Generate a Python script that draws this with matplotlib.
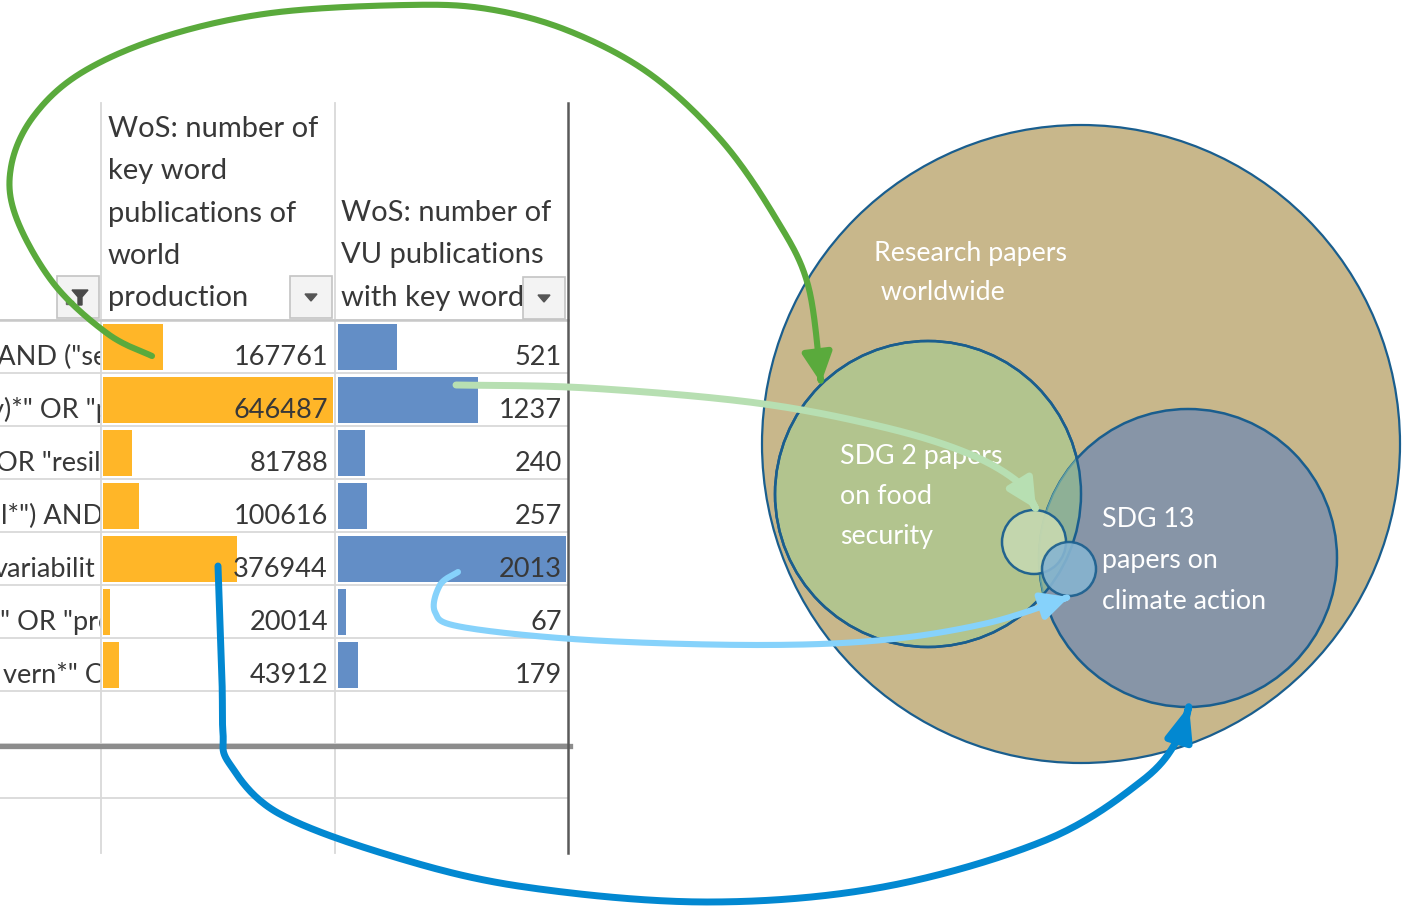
import numpy as np
import matplotlib.pyplot as plt
from matplotlib.patches import Circle, Rectangle, Polygon, FancyArrowPatch
from matplotlib.path import Path

plt.rcParams['font.family'] = ['Lato', 'DejaVu Sans']

# ---- table data (only the visible part of the spreadsheet) ----
row_labels = ['(AND ("sea', 'y)*" OR "pe', 'OR "resili', 'l*") AND', 'variabilit', '" OR "pro', 'vern*" OR']
world_pubs = [167761, 646487, 81788, 100616, 376944, 20014, 43912]
vu_pubs = [521, 1237, 240, 257, 2013, 67, 179]
header_world = ['WoS: number of', 'key word', 'publications of', 'world', 'production']
header_vu = ['WoS: number of', 'VU publications', 'with key word']

# ---- venn labels ----
label_world = ['Research papers', ' worldwide']
label_sdg2 = ['SDG 2 papers', 'on food', 'security']
label_sdg13 = ['SDG 13', 'papers on', 'climate action']

# layout, in pixels of the 1409x908 picture
col_x = [0, 101, 335, 568]
head_top = 103
row_top = 320
row_h = 53
label_x0 = [-10, -10, -4, 1, -6, 0, 3]

orange = '#FFB628'
bar_blue = '#638EC6'
grid = '#D9D9D9'
txt = '#383838'
edge = '#1A5E8E'


def smooth(pts, n=24):
    # catmull-rom through the hand picked points
    p = np.asarray(pts, float)
    p = np.vstack([p[0], p, p[-1]])
    out = []
    t = np.linspace(0, 1, n, endpoint=False)[:, None]
    for i in range(1, len(p) - 2):
        p0, p1, p2, p3 = p[i - 1], p[i], p[i + 1], p[i + 2]
        out.append(0.5 * (2 * p1 + (p2 - p0) * t + (2 * p0 - 5 * p1 + 4 * p2 - p3) * t ** 2
                          + (-p0 + 3 * p1 - 3 * p2 + p3) * t ** 3))
    out.append(p[-2][None])
    return np.vstack(out)


def arrow(ax, pts, color, lw, ms, hl=0.9, hw=0.45):
    a = FancyArrowPatch(path=Path(smooth(pts)), arrowstyle=f'-|>,head_length={hl},head_width={hw}',
                        mutation_scale=ms, color=color, lw=lw, capstyle='round', joinstyle='round', zorder=20)
    ax.add_patch(a)


def dropdown(ax, x0, y0, w, h, funnel=False):
    ax.add_patch(Rectangle((x0, y0), w, h, facecolor='#F3F3F3', edgecolor='#C4C4C4', lw=1.2, zorder=4))
    cx, cy = x0 + w / 2, y0 + h / 2
    if funnel:
        ax.add_patch(Polygon([(cx - 6, cy - 7), (cx + 10, cy - 7), (cx + 4, cy), (cx + 4, cy + 8),
                              (cx, cy + 8), (cx, cy)], closed=True, color='#4A4A4A', zorder=5))
        ax.add_patch(Rectangle((cx - 12, cy + 4), 7, 3, color='#6A6A6A', zorder=5))
    else:
        ax.add_patch(Polygon([(cx - 6, cy - 3), (cx + 6, cy - 3), (cx, cy + 4)], closed=True,
                             color='#555555', zorder=5))


fig = plt.figure(figsize=(14.09, 9.08), dpi=100)
ax = fig.add_axes([0, 0, 1, 1])
ax.set_xlim(0, 1409)
ax.set_ylim(908, 0)
ax.axis('off')

n = len(world_pubs)
row_y = [row_top + i * row_h for i in range(n + 1)]

# grid
for y in row_y + [row_y[-1] + row_h, 798]:
    ax.plot([0, col_x[3]], [y, y], color=grid, lw=1.3, zorder=2.5)
ax.plot([0, col_x[3]], [row_top, row_top], color='#C8C8C8', lw=1.8, zorder=2.6)
for x in col_x[1:3]:
    ax.plot([x, x], [head_top, 853], color=grid, lw=1.3, zorder=2.5)
ax.plot([0, col_x[3] + 2], [746, 746], color='#8C8C8C', lw=3.8, zorder=2.6)
ax.plot([col_x[3], col_x[3]], [head_top, 853], color='#5A5A5A', lw=1.8, zorder=3)

# header
for i, s in enumerate(header_world):
    ax.text(108, 137 + i * 42.3, s, fontsize=21, color=txt, va='baseline', ha='left', zorder=3)
for i, s in enumerate(header_vu):
    ax.text(341, 221 + i * 42.3, s, fontsize=21, color=txt, va='baseline', ha='left', zorder=3)
dropdown(ax, 57, 276, 42, 42, funnel=True)
dropdown(ax, 290, 276, 42, 42)
dropdown(ax, 523, 277, 42, 42)

# the label column is cut off at its right border like in the sheet
ax.add_patch(Rectangle((col_x[1], row_top), col_x[2] - col_x[1], row_h * n, facecolor='white',
                       lw=0, zorder=1.8))

w_max, v_max = max(world_pubs), max(vu_pubs)
w_len = col_x[2] - col_x[1] - 4
v_len = col_x[3] - col_x[2] - 5
for i in range(n):
    top = row_y[i]
    base = top + row_h - 8
    ax.text(label_x0[i], base, row_labels[i], fontsize=19.5, color=txt, va='baseline', ha='left', zorder=1.5)
    ax.add_patch(Rectangle((col_x[1] + 2, top + 4), world_pubs[i] / w_max * w_len, row_h - 7,
                           color=orange, lw=0, zorder=2))
    ax.add_patch(Rectangle((col_x[2] + 3, top + 4), vu_pubs[i] / v_max * v_len, row_h - 7,
                           color=bar_blue, lw=0, zorder=2))
    ax.text(col_x[2] - 7, base, str(world_pubs[i]), fontsize=19.5, color=txt, va='baseline', ha='right', zorder=3)
    ax.text(col_x[3] - 6, base, str(vu_pubs[i]), fontsize=19.5, color=txt, va='baseline', ha='right', zorder=3)

# venn diagram
big = Circle((1081, 444), 319, facecolor='#C8B78B', edgecolor=edge, lw=1.6, zorder=6)
sdg2 = Circle((928, 494), 153, facecolor='#B2C48E', edgecolor=edge, lw=1.8, zorder=7)
sdg13 = Circle((1188, 558), 149, facecolor='#8795A7', edgecolor=edge, lw=1.8, zorder=8)
for c in (big, sdg2, sdg13):
    ax.add_patch(c)
lens = Circle((1188, 558), 149, facecolor='#8EB096', edgecolor='#5F9EA0', lw=1.2, zorder=9)
ax.add_patch(lens)
lens.set_clip_path(Circle((928, 494), 153, transform=ax.transData))
ax.add_patch(Circle((928, 494), 153, facecolor='none', edgecolor=edge, lw=1.8, zorder=10))
ax.add_patch(Circle((1034, 542), 32, facecolor='#C5D8AF', edgecolor=edge, lw=1.8, alpha=0.95, zorder=11))
ax.add_patch(Circle((1069, 569), 27, facecolor='#86B4D0', edgecolor=edge, lw=1.8, alpha=0.9, zorder=12))

for i, s in enumerate(label_world):
    ax.text(874, 261 + i * 39.5, s, fontsize=19.3, color='white', va='baseline', zorder=15)
for i, s in enumerate(label_sdg2):
    ax.text(840, 464 + i * 40, s, fontsize=19.3, color='white', va='baseline', zorder=15)
for i, s in enumerate(label_sdg13):
    ax.text(1102, 527 + i * 41, s, fontsize=19.3, color='white', va='baseline', zorder=15)

# arrows from table rows to the circles
arrow(ax, [(152, 356), (108, 334), (54, 284), (16, 217), (11, 167), (33, 117), (81, 73), (163, 37),
           (271, 13), (406, 5), (488, 9), (569, 31), (650, 74), (721, 140), (775, 217), (808, 285),
           (821, 383)], '#5AAA3C', 4.4, 20)
arrow(ax, [(456, 385), (588, 388), (757, 403), (883, 427), (967, 453), (1018, 482), (1036, 509)],
      '#B7DFB2', 5.0, 19)
arrow(ax, [(458, 572), (440, 585), (435, 612), (462, 627), (588, 640), (757, 645), (883, 640),
           (988, 623), (1069, 597)], '#86D2FB', 4.4, 18)
arrow(ax, [(218, 566), (222, 680), (223, 733), (229, 763), (278, 813), (395, 857), (525, 887),
           (707, 902), (883, 887), (1046, 840), (1143, 780), (1179, 737), (1189, 706)],
      '#0288D1', 5.0, 20, hl=1.0, hw=0.4)

fig.savefig('out.png', dpi=100)
